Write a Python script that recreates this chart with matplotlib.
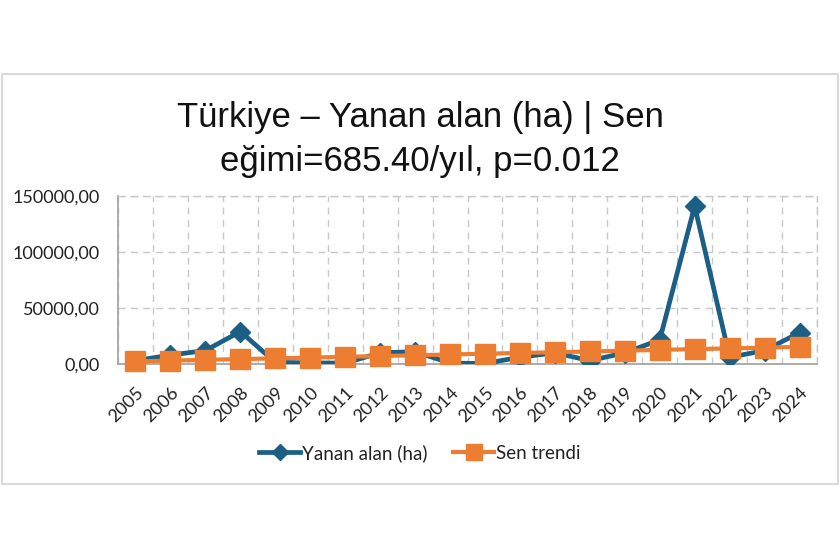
import matplotlib
matplotlib.use("Agg")
import matplotlib.pyplot as plt
from matplotlib.patches import Rectangle
from matplotlib.ticker import FuncFormatter, MultipleLocator

years = ["2005", "2006", "2007", "2008", "2009", "2010", "2011", "2012", "2013", "2014",
         "2015", "2016", "2017", "2018", "2019", "2020", "2021", "2022", "2023", "2024"]
burned = [3000, 8000, 12000, 29000, 1500, 1000, 800, 10000, 11000, 800,
          500, 6000, 10000, 3000, 10000, 21500, 141000, 6000, 12000, 28000]
sen_trend = [2300, 3000, 3700, 4400, 5000, 5700, 6400, 7100, 7800, 8500,
             9200, 9800, 10500, 11200, 11900, 12600, 13300, 13900, 14600, 15300]
title_lines = ["Türkiye – Yanan alan (ha) | Sen", "eğimi=685.40/yıl, p=0.012"]
yticks = [0, 50000, 100000, 150000]

BLUE = "#1B5F86"
ORANGE = "#ED7D31"
GRID = "#C8C8C8"

fig = plt.figure(figsize=(8.4, 5.6), dpi=100)
fig.patch.set_facecolor("white")
fig.patches.append(Rectangle((2/840, 1-484/560), 836/840, 410/560, transform=fig.transFigure,
                             fill=False, edgecolor="#D9D9D9", linewidth=1.5))

ax = fig.add_axes([118/840, 1-364/560, 699/840, 168/560])
x = list(range(len(years)))

ax.plot(x, burned, color=BLUE, linewidth=3.4, marker="D", markersize=10,
        label="Yanan alan (ha)", zorder=3)
ax.plot(x, sen_trend, color=ORANGE, linewidth=3, marker="s", markersize=14,
        label="Sen trendi", zorder=4, clip_on=False)

ax.set_xlim(-0.5, len(years) - 0.5)
ax.set_ylim(0, 150000)
ax.set_yticks(yticks)
ax.yaxis.set_major_formatter(FuncFormatter(lambda v, p: f"{v:.2f}".replace(".", ",")))
ax.set_xticks(x)
ax.set_xticklabels(years, rotation=45, ha="right", rotation_mode="anchor",
                   fontsize=13, family=["Lato", "DejaVu Sans"], color="#222222")
for lbl in ax.get_yticklabels():
    lbl.set_fontsize(13)
    lbl.set_family(["Lato", "DejaVu Sans"])
    lbl.set_color("#222222")
ax.tick_params(axis="y", length=0, pad=13)
ax.tick_params(axis="x", length=0, pad=15)

ax.xaxis.set_minor_locator(MultipleLocator(1, offset=0.5))
ax.grid(True, which="major", axis="y", linestyle=(0, (5, 4)), color=GRID, linewidth=1)
ax.grid(True, which="minor", axis="x", linestyle=(0, (5, 4)), color=GRID, linewidth=1)
ax.tick_params(axis="x", which="minor", length=0)

for s in ["top", "right"]:
    ax.spines[s].set_linestyle((0, (5, 4)))
    ax.spines[s].set_color(GRID)
    ax.spines[s].set_linewidth(1)
for s in ["left", "bottom"]:
    ax.spines[s].set_color("#A6A6A6")
    ax.spines[s].set_linewidth(1.3)

for line, ybase in zip(title_lines, [127, 171]):
    fig.text(0.5, 1 - ybase/560, line, ha="center", va="baseline", fontsize=25,
             family=["Liberation Sans", "DejaVu Sans"], color="#111111")

leg = fig.legend(loc="center", bbox_to_anchor=(0.5, 1 - 453/560), ncol=2, frameon=False,
                 prop={"family": ["Lato", "DejaVu Sans"], "size": 13.5},
                 handlelength=2.2, handletextpad=0.1, columnspacing=1.35)
for t in leg.get_texts():
    t.set_color("#222222")
hs = leg.legend_handles
hs[0].set_markersize(8)
hs[1].set_markersize(12)

fig.savefig("out.png", dpi=100, facecolor="white")
